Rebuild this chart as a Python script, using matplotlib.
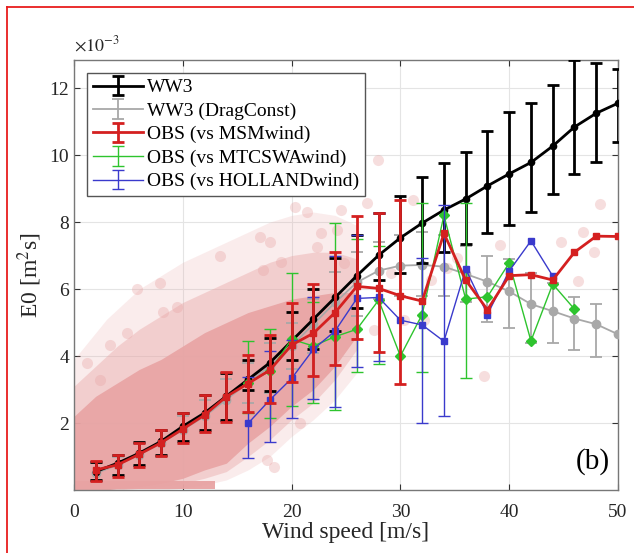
"""E0 vs wind speed: WW3 runs against observations (panel b)."""

import numpy as np
import matplotlib

matplotlib.use("Agg")
import matplotlib.pyplot as plt
from matplotlib.lines import Line2D

plt.rcParams["font.family"] = ["Liberation Serif", "DejaVu Serif"]
plt.rcParams["mathtext.fontset"] = "stix"

# ── binned means and error-bar bounds (units of 1e-3 m^2 s) ──
ws = [2, 4, 6, 8, 10, 12, 14, 16, 18, 20, 22, 24, 26, 28, 30, 32, 34, 36, 38, 40, 42, 44, 46, 48, 50]

ww3_mean = [0.55, 0.8, 1.1, 1.45, 1.9, 2.3, 2.8, 3.3, 3.8, 4.45, 5.1, 5.75, 6.4, 7.01, 7.53,
            7.97, 8.36, 8.69, 9.08, 9.44, 9.78, 10.27, 10.84, 11.25, 11.55]
ww3_lo = [0.3, 0.45, 0.75, 1.05, 1.45, 1.78, 2.1, 2.99, 2.95, 3.88, 4.2, 4.75, 5.42, 6.27, 6.47,
          6.77, 7.1, 7.36, 7.66, 7.91, 8.3, 8.84, 9.44, 9.78, 10.4]
ww3_hi = [0.85, 1.05, 1.42, 1.8, 2.3, 2.85, 3.5, 3.88, 4.55, 5.32, 6.0, 6.92, 7.6, 8.26, 8.78,
          9.35, 9.75, 10.08, 10.73, 11.29, 11.56, 12.09, 12.84, 12.76, 12.58]

drag_mean = [0.5, 0.75, 1.05, 1.4, 1.8, 2.2, 2.7, 3.2, 3.7, 4.3, 4.95, 5.6, 6.2, 6.55, 6.7,
             6.72, 6.67, 6.45, 6.22, 5.93, 5.55, 5.34, 5.12, 4.95, 4.65]
drag_lo = [0.3, 0.45, 0.72, 1.0, 1.4, 1.72, 2.05, 2.6, 2.9, 3.6, 4.1, 4.6, 5.2, 5.7, 5.8,
           5.8, 5.8, 5.6, 5.02, 4.83, 4.38, 4.38, 4.18, 3.96, np.nan]
drag_hi = [0.8, 1.0, 1.38, 1.75, 2.2, 2.7, 3.3, 3.8, 4.4, 5.0, 5.7, 6.5, 7.1, 7.4, 7.6,
           7.7, 7.6, 7.3, 6.99, 6.9, 6.47, 6.17, 5.77, 5.54, np.nan]

msm_mean = [0.6, 0.75, 1.07, 1.41, 1.82, 2.24, 2.79, 3.18, 3.58, 4.33, 4.68, 5.3, 6.08, 6.02, 5.8,
            5.64, 7.66, 6.27, 5.38, 6.4, 6.43, 6.27, 7.1, 7.58, 7.57]
msm_lo = [0.28, 0.4, 0.7, 1.01, 1.39, 1.74, 2.04, 2.34, 2.59, 3.23, 3.4, 3.73, 4.5, 4.12, 3.18,
          np.nan, np.nan, np.nan, np.nan, np.nan, np.nan, np.nan, np.nan, np.nan, np.nan]
msm_hi = [0.87, 1.04, 1.41, 1.79, 2.29, 2.84, 3.53, 4.03, 4.63, 5.57, 6.14, 7.11, 8.18, 8.28, 8.66,
          np.nan, np.nan, np.nan, np.nan, np.nan, np.nan, np.nan, np.nan, np.nan, np.nan]

mtc_ws = [16, 18, 20, 22, 24, 26, 28, 30, 32, 34, 36, 38, 40, 42, 44, 46]
mtc_mean = [3.2, 3.55, 4.5, 4.3, 4.58, 4.8, 5.67, 4.0, 5.24, 8.2, 5.7, 5.77, 6.78, 4.45, 6.15, 5.4]
mtc_lo = [2.3, 2.14, 2.5, 2.61, 2.39, 3.53, 3.75, np.nan, 3.53, np.nan, 3.35,
          np.nan, np.nan, np.nan, np.nan, np.nan]
mtc_hi = [4.45, 4.82, 6.48, 5.6, 7.96, 7.5, 7.3, np.nan, 8.56, np.nan, 8.56,
          np.nan, np.nan, np.nan, np.nan, np.nan]

hol_ws = [16, 18, 20, 22, 24, 26, 28, 30, 32, 34, 36, 38, 40, 42, 44]
hol_mean = [1.99, 2.69, 3.33, 4.2, 4.75, 5.72, 5.75, 5.07, 4.93, 4.44, 6.6, 5.24, 6.54, 7.44, 6.39]
hol_lo = [0.95, 1.44, 2.14, 2.71, 2.49, 3.68, 3.86, np.nan, 2.01, 2.21,
          np.nan, np.nan, np.nan, np.nan, np.nan]
hol_hi = [3.38, 4.15, 4.48, 5.77, 7.0, 7.6, 8.28, np.nan, 6.92, 8.51,
          np.nan, np.nan, np.nan, np.nan, np.nan]

# ── individual samples: dense core, two lighter halos, flat low band, sparse outliers ──
cloud_ws = [0, 1, 2, 3, 4, 6, 8, 10, 12, 14, 16, 18, 20, 22, 24, 26]
core_lo = [0.0, 0.0, 0.0, 0.0, 0.05, 0.1, 0.2, 0.35, 0.6, 0.8, 1.4, 1.9, 2.5, 3.0, 3.7, 4.6]
core_hi = [2.2, 2.5, 2.8, 3.0, 3.2, 3.6, 3.9, 4.3, 4.7, 5.0, 5.3, 5.5, 5.7, 5.8, 5.9, 5.9]
mid_lo = [0.0, 0.0, 0.0, 0.0, 0.0, 0.05, 0.1, 0.2, 0.35, 0.55, 1.0, 1.5, 2.1, 2.6, 3.3, 4.2]
mid_hi = [3.1, 3.4, 3.7, 4.0, 4.3, 4.8, 5.2, 5.6, 5.9, 6.2, 6.5, 6.8, 7.0, 7.1, 7.1, 6.9]
halo_lo = [0.0, 0.0, 0.0, 0.0, 0.0, 0.0, 0.0, 0.05, 0.15, 0.3, 0.6, 1.0, 1.6, 2.1, 2.7, 3.5]
halo_hi = [3.9, 4.3, 4.7, 5.1, 5.4, 6.0, 6.4, 6.8, 7.1, 7.4, 7.7, 8.0, 8.2, 8.3, 8.2, 7.9]
band_ws = [0, 13]
band_lo = [0.02, 0.02]
band_hi = [0.28, 0.28]

sparse_ws = [1.2, 2.4, 3.3, 4.9, 5.8, 7.9, 8.2, 9.5, 13.4, 17.1, 18.0, 19.0, 17.4, 20.3, 22.7,
             21.4, 22.3, 24.2, 24.5, 24.8, 25.4, 26.9, 27.9, 29.1, 31.2, 27.6, 30.3, 32.2, 32.8,
             34.3, 35.2, 37.7, 39.2, 44.8, 46.3, 46.8, 47.8, 48.3, 17.7, 18.4, 20.8, 22.7]
sparse_e0 = [3.78, 3.28, 4.33, 4.68, 6.0, 6.17, 5.32, 5.47, 7.0, 7.56, 7.41, 6.8, 6.57, 8.46, 7.66,
             8.31, 7.26, 7.76, 8.36, 6.77, 9.05, 8.56, 9.85, 6.47, 8.66, 4.78, 5.07, 5.07, 6.27,
             6.62, 6.92, 3.4, 7.31, 7.41, 6.24, 7.71, 7.11, 8.53, 0.9, 0.7, 1.99, 9.16]

PINK = "#e8a3a3"

fig = plt.figure(figsize=(6.34, 5.53), dpi=100)
ax = fig.add_axes([74 / 634, 63 / 553, 544 / 634, 430 / 553])

ax.fill_between(cloud_ws, halo_lo, halo_hi, color=PINK, alpha=0.2, lw=0, zorder=1)
ax.fill_between(cloud_ws, mid_lo, mid_hi, color=PINK, alpha=0.4, lw=0, zorder=1)
ax.fill_between(cloud_ws, core_lo, core_hi, color=PINK, alpha=0.9, lw=0, zorder=1)
ax.fill_between(band_ws, band_lo, band_hi, color=PINK, alpha=0.95, lw=0, zorder=1)
ax.plot(sparse_ws, sparse_e0, "o", ms=8, color=PINK, alpha=0.35, mec="none", zorder=1)


def series(x, mean, lo, hi, color, lw, marker, ms, label, z):
    m = np.array(mean, float)
    yerr = np.vstack([m - np.array(lo, float), np.array(hi, float) - m])
    ax.errorbar(x, m, yerr=yerr, fmt="-", color=color, lw=lw, elinewidth=lw,
                capsize=4, capthick=lw, label=label, zorder=z)
    ax.plot(x, m, marker, ms=ms, color=color, mec=color, zorder=z + 0.1)


series(ws, drag_mean, drag_lo, drag_hi, "#a8a8a8", 1.3, "o", 6, "WW3 (DragConst)", 3)
series(ws, ww3_mean, ww3_lo, ww3_hi, "black", 2.0, "o", 4.5, "WW3", 4)
series(mtc_ws, mtc_mean, mtc_lo, mtc_hi, "#2ec42e", 1.0, "D", 5, "OBS (vs MTCSWAwind)", 5)
series(hol_ws, hol_mean, hol_lo, hol_hi, "#3a3acc", 1.0, "s", 5, "OBS (vs HOLLANDwind)", 6)
series(ws, msm_mean, msm_lo, msm_hi, "#d42020", 2.0, "s", 4.5, "OBS (vs MSMwind)", 7)

# legend in the original order
h, l = ax.get_legend_handles_labels()
order = ["WW3", "WW3 (DragConst)", "OBS (vs MSMwind)", "OBS (vs MTCSWAwind)", "OBS (vs HOLLANDwind)"]
hd = dict(zip(l, h))
leg = ax.legend([hd[k] for k in order], order, loc="upper left", bbox_to_anchor=(0.024, 0.97),
                borderaxespad=0, fontsize=14, handlelength=2.6, handletextpad=0.2,
                labelspacing=0.3, fancybox=False, framealpha=1, edgecolor="#555555",
                borderpad=0.3)
leg.get_frame().set_linewidth(1.0)
leg.set_zorder(20)

ax.set_xlim(0, 50)
ax.set_ylim(0, 12.84)
ax.set_xticks([0, 10, 20, 30, 40, 50])
ax.set_yticks([2, 4, 6, 8, 10, 12])
ax.grid(True, color="#e4e4e4", lw=0.8)
ax.set_axisbelow(True)
ax.tick_params(direction="in", top=True, right=True, length=4, labelsize=14,
               colors="#333333", labelcolor="#262626")
ax.tick_params(axis="x", pad=10)
for s in ax.spines.values():
    s.set_color("#777777")
    s.set_linewidth(1.0)

ax.set_xlabel("Wind speed [m/s]", fontsize=17, color="#262626", labelpad=1)
ax.set_ylabel("E0 [m$^2$s]", fontsize=17, color="#262626", labelpad=4)
ax.text(0.0, 1.012, r"$\times10^{-3}$", transform=ax.transAxes, fontsize=13,
        ha="left", va="bottom", color="#262626")
ax.text(0.985, 0.035, "(b)", transform=ax.transAxes, fontsize=21, ha="right", va="bottom")

# screenshot frame
fig.add_artist(Line2D([7 / 634, 7 / 634], [0, 546 / 553], color="#e81c1c", lw=1.3))
fig.add_artist(Line2D([7 / 634, 1], [546 / 553, 546 / 553], color="#e81c1c", lw=1.3))

fig.savefig("out.png", dpi=100)
